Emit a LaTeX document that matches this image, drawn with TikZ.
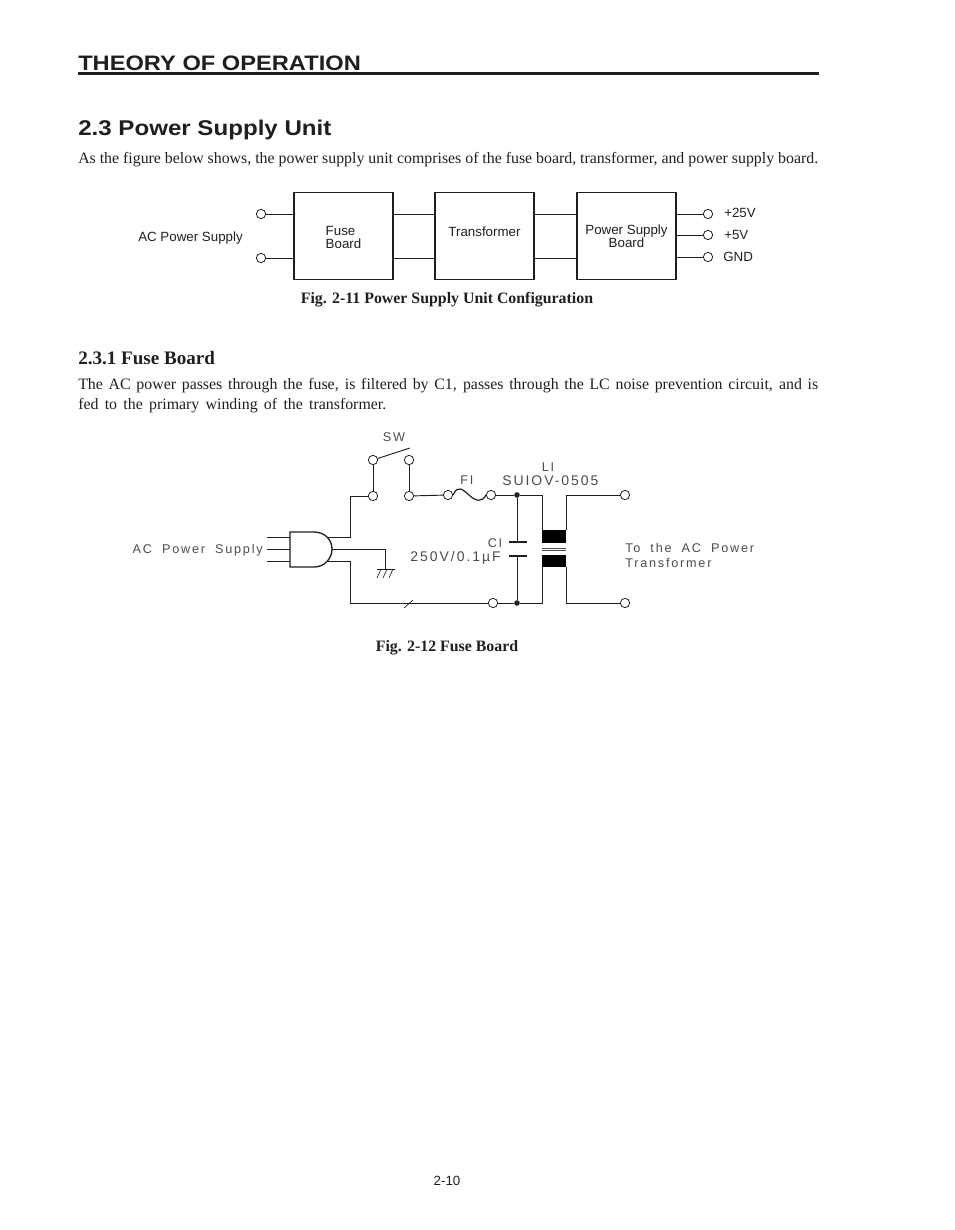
\documentclass[tikz,border=0pt]{standalone}
\usepackage{fontspec}
\setmainfont{Liberation Serif}
\setsansfont{Liberation Sans}
\newfontfamily\widefont[LetterSpace=14,WordSpace=1.9]{Liberation Sans}
\newfontfamily\headfont[FakeStretch=1.13]{Liberation Sans}
\definecolor{ink}{gray}{0.12}
\definecolor{thinink}{gray}{0.3}
\tikzset{
  blockbox/.style={draw=ink,line width=1.4pt,minimum width=74.25pt,minimum height=65.25pt,inner sep=0pt,font=\sffamily\fontsize{10}{10}\selectfont,text=ink},
  term/.style={draw=ink,circle,fill=white,line width=0.6pt,minimum size=7pt,inner sep=0pt},
  wire/.style={draw=ink,line width=0.7pt},
  solder/.style={circle,fill=ink,minimum size=4.2pt,inner sep=0pt},
  coil/.style={fill=black,draw=none},
  label/.style={text=ink,font=\sffamily\fontsize{10}{11}\selectfont,inner sep=0pt},
  thin label/.style={text=thinink,font=\widefont\fontsize{9.5}{11}\selectfont,inner sep=0pt},
  body/.style={text=ink,anchor=west,inner sep=0pt,font=\fontsize{11.9}{13}\selectfont},
  caption/.style={text=ink,inner sep=0pt,font=\bfseries\fontsize{11.9}{13}\selectfont}
}
\begin{document}
\begin{tikzpicture}[x=0.75pt,y=-0.75pt]
  \useasboundingbox (0,0) rectangle (954,1230);

  % page heading
  \node[anchor=west,inner sep=0pt,text=ink,font=\headfont\bfseries\fontsize{15.7}{17}\selectfont] (title) at (78,63) {THEORY OF OPERATION};
  \coordinate (ruleL) at (78,73.5);
  \coordinate (ruleR) at (819,73.5);
  \draw[ink,line width=2pt] (ruleL)--(ruleR);
  \node[anchor=west,inner sep=0pt,text=ink,font=\headfont\bfseries\fontsize{16}{18}\selectfont] (sect) at (78,129.5) {2.3 Power Supply Unit};
  \node[body] (intro) at (78,159.5) {\makebox[555pt][s]{As the figure below shows, the power supply unit comprises of the fuse board, transformer, and power supply board.}};

  % Fig. 2-11
  \node[blockbox] (fuse) at (343.5,236) {\rule{0pt}{17pt}\begin{tabular}{@{}l@{}}Fuse\\[-0.4pt]Board\end{tabular}};
  \node[blockbox] (trans) at (484.5,236) {\raisebox{6pt}{Transformer}};
  \node[blockbox] (psu) at (626.5,236) {\rule{0pt}{16pt}\begin{tabular}{@{}c@{}}Power Supply\\[-0.4pt]Board\end{tabular}};
  \node[term] (acA) at (261,214) {};
  \node[term] (acB) at (261,258) {};
  \node[term] (outA) at (708,214) {};
  \node[term] (outB) at (708,235) {};
  \node[term] (outC) at (708,257) {};
  \draw[wire] (acA)--(acA-|fuse.west);
  \draw[wire] (acB)--(acB-|fuse.west);
  \draw[wire] (acA-|fuse.east)--(acA-|trans.west);
  \draw[wire] (acB-|fuse.east)--(acB-|trans.west);
  \draw[wire] (acA-|trans.east)--(acA-|psu.west);
  \draw[wire] (acB-|trans.east)--(acB-|psu.west);
  \draw[wire] (outA-|psu.east)--(outA);
  \draw[wire] (outB-|psu.east)--(outB);
  \draw[wire] (outC-|psu.east)--(outC);
  \node[label] (acLabel) at (190.5,238) {AC Power Supply};
  \node[label,anchor=west] (vA) at (724,213) {+25V};
  \node[label,anchor=west] (vB) at (724,235) {+5V};
  \node[label,anchor=west] (vC) at (723,257) {GND};
  \node[caption] (figA) at (447,299.5) {Fig. 2-11 Power Supply Unit Configuration};

  \node[anchor=west,inner sep=0pt,text=ink,font=\bfseries\fontsize{14.3}{16}\selectfont] (subsect) at (78,358.5) {2.3.1 Fuse Board};
  \node[body] (paraA) at (78,385.5) {\makebox[555pt][s]{The AC power passes through the fuse, is filtered by C1, passes through the LC noise prevention circuit, and is}};
  \node[body] (paraB) at (78,406) {\makebox[231pt][s]{fed to the primary winding of the transformer.}};

  % plug
  \node[inner sep=0pt] (plugC) at (310,549) {};
  \coordinate (pinA) at (267,537);
  \coordinate (pinB) at (267,549);
  \coordinate (pinC) at (267,561);
  \coordinate (plugT) at (290,537);
  \coordinate (plugM) at (290,549);
  \coordinate (plugB) at (290,561);
  \draw[wire] (pinA)--(plugT);
  \draw[wire] (pinB)--(plugM);
  \draw[wire] (pinC)--(plugB);
  \draw[ink,line width=1pt] (290,532)--(314,532)..controls (325,532) and (332,540) .. (332,549)..controls (332,558) and (325,567) .. (314,567)--(290,567)--cycle;

  % switch
  \node[term] (swA) at (373,460) {};
  \node[term] (swB) at (409,460) {};
  \node[term] (swC) at (373,496) {};
  \node[term] (swD) at (409,496) {};
  \coordinate (lever) at (410,448);
  \draw[wire] (swA)--(lever);
  \draw[wire] (swA)--(swC);
  \draw[wire] (swB)--(swD);
  \draw[wire] (328,537)--(350,537)--(350,496)--(swC);

  % ground
  \coordinate (gnd) at (385,569);
  \draw[wire] (332,549)--(385,549)--(gnd);
  \draw[wire] (377,569)--(395,569);
  \foreach \i in {0,1,2}
    \draw[ink,line width=0.5pt] (381+\i*6,569)--(377+\i*6,578);

  % fuse
  \node[term] (fuA) at (448,495) {};
  \node[term] (fuB) at (491,495) {};
  \draw[wire] (swD)--(fuA);
  \draw[ink,line width=0.9pt] (fuA.east)..controls (458,484) and (463,490) .. (469,495)..controls (475,501) and (482,503) .. (fuB.west);

  % C1 and L1
  \node[solder] (dotT) at (517,495) {};
  \node[solder] (dotB) at (517,603) {};
  \node[term] (lineEnd) at (493,603) {};
  \node[term] (toA) at (625,495) {};
  \node[term] (toB) at (625,603) {};
  \coordinate (capT) at (517,542);
  \coordinate (capB) at (517,556);
  \draw[wire] (fuB)--(dotT)--(542,495)--(542,530);
  \draw[wire] (dotT)--(capT);
  \draw[wire] (capB)--(dotB);
  \draw[ink,line width=0.8pt] (509,542)--(527,542);
  \draw[ink,line width=0.8pt] (509,556)--(527,556);
  \fill[coil] (542,530) rectangle (566,543);
  \fill[coil] (542,555) rectangle (566,567);
  \draw[thinink,line width=0.4pt] (542,548)--(566,548);
  \draw[thinink,line width=0.4pt] (542,550)--(566,550);
  \draw[wire] (566,530)--(566,495)--(toA);
  \draw[wire] (566,567)--(566,603)--(toB);
  \draw[wire] (542,567)--(542,603)--(dotB)--(lineEnd);
  \draw[wire] (328,561)--(350,561)--(350,603)--(lineEnd);
  \draw[ink,line width=0.5pt] (404,608)--(413,600);

  \node[thin label] (swLabel) at (394,437) {SW};
  \node[thin label,anchor=east] (plugLabel) at (263,550) {AC Power Supply};
  \node[thin label] (fLabel) at (467,480) {FI};
  \node[thin label] (lLabel) at (548,467) {LI};
  \node[thin label,anchor=west,font=\widefont\fontsize{10.5}{12}\selectfont] (lType) at (502,481) {SUIOV-0505};
  \node[thin label] (cLabel) at (495,543) {CI};
  \node[thin label,anchor=east,font=\widefont\fontsize{10.5}{12}\selectfont] (cValue) at (501,558) {250V/0.1µF};
  \node[thin label,anchor=west] (toLabelA) at (625,548) {To the AC Power};
  \node[thin label,anchor=west] (toLabelB) at (625,563) {Transformer};
  \node[caption] (figB) at (447,647.5) {Fig. 2-12 Fuse Board};

  \node[label] (pageNo) at (447,1181) {2-10};
\end{tikzpicture}
\end{document}
